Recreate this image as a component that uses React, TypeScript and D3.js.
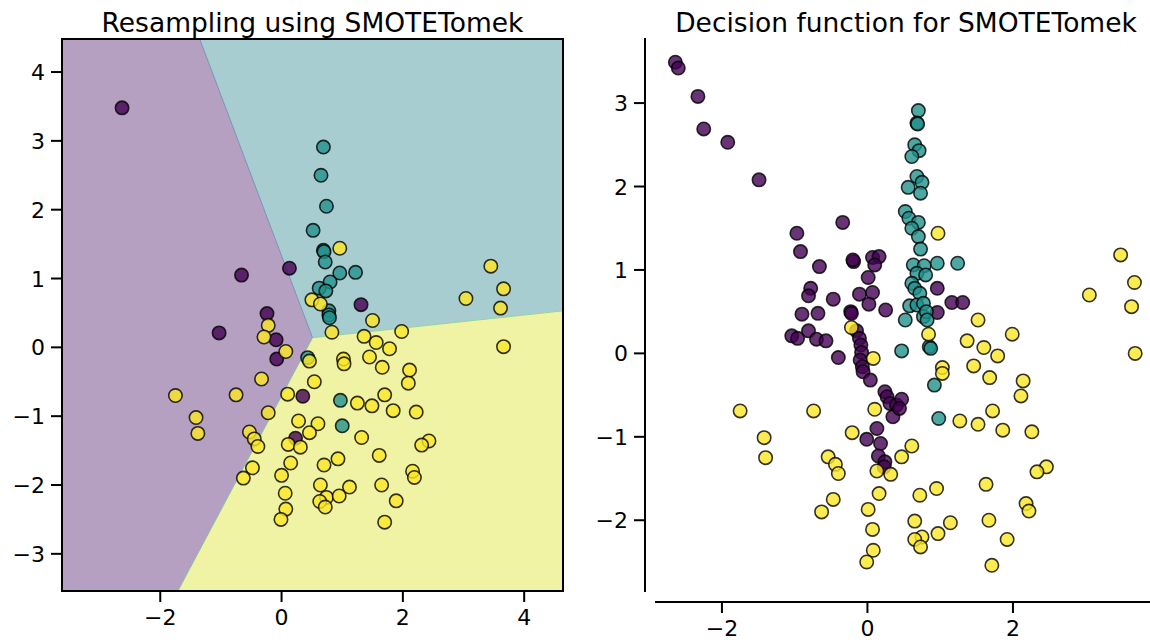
import React from "react";
import * as d3 from "d3";

type P = [number, number];

// ---------- Left panel data ----------
const leftPurple: P[] = [
  [-2.63, 3.48], [-0.66, 1.05], [0.13, 1.15], [-0.24, 0.49], [1.31, 0.62], [-1.03, 0.21],
  [-0.09, 0.11], [-0.08, -0.17], [0.35, -0.71], [0.23, -1.32],
];
const leftTeal: P[] = [
  [0.69, 2.91], [0.65, 2.5], [0.74, 2.05], [0.52, 1.7], [0.69, 1.41], [0.7, 1.39], [0.72, 1.24],
  [0.96, 1.08], [1.22, 1.09], [0.8, 0.95], [0.62, 0.86], [0.73, 0.82], [0.78, 0.53], [0.78, 0.47],
  [0.79, 0.43], [0.43, -0.15], [0.97, -0.77], [1.0, -1.14],
];
const leftYellow: P[] = [
  [0.96, 1.44], [0.5, 0.69], [0.64, 0.63], [3.04, 0.71], [3.45, 1.18], [3.66, 0.85], [3.61, 0.57],
  [1.5, 0.39], [3.66, 0.01], [-0.22, 0.32], [-0.29, 0.15], [0.07, -0.06], [0.46, -0.2], [0.83, 0.22],
  [1.36, 0.16], [1.98, 0.23], [1.56, 0.07], [1.78, -0.02], [1.02, -0.17], [1.03, -0.24], [1.45, -0.14],
  [1.66, -0.29], [2.11, -0.33], [2.09, -0.52], [-0.33, -0.46], [-1.75, -0.7], [-0.75, -0.69],
  [0.1, -0.68], [0.54, -0.5], [1.7, -0.69], [1.25, -0.81], [1.49, -0.85], [1.84, -0.92], [2.22, -0.94],
  [-0.22, -0.95], [-1.41, -1.02], [-1.38, -1.25], [-0.53, -1.23], [-0.45, -1.33], [-0.39, -1.44],
  [0.28, -1.07], [0.6, -1.11], [0.46, -1.24], [0.11, -1.41], [0.31, -1.45], [1.32, -1.31], [2.43, -1.36],
  [2.31, -1.42], [1.61, -1.57], [0.93, -1.62], [0.7, -1.71], [0.15, -1.68], [-0.48, -1.75],
  [-0.63, -1.9], [0.0, -1.86], [0.64, -2.0], [1.12, -2.03], [1.65, -2.0], [2.16, -1.8], [2.19, -1.89],
  [0.06, -2.12], [0.74, -2.18], [0.95, -2.16], [0.63, -2.24], [0.72, -2.32], [0.07, -2.35],
  [-0.01, -2.5], [1.89, -2.23], [1.7, -2.54],
];

// decision-region boundary vertices (data coords)
const leftTopCross: P = [-1.35, 4.48];
const leftTriple: P = [0.51, 0.14];
const leftBottomCross: P = [-1.71, -3.54];
const leftRightCross: P = [4.64, 0.53];

// ---------- Right panel data ----------
const rightPurple: P[] = [
  [-2.64, 3.49], [-2.6, 3.42], [-2.33, 3.08], [-2.25, 2.69], [-1.92, 2.53], [-1.49, 2.08], [-0.97, 1.44],
  [-0.92, 1.22], [-0.34, 1.57], [-0.66, 1.04], [-0.19, 1.1], [-0.2, 1.12], [0.07, 1.15], [0.16, 1.16],
  [0.1, 1.06], [0.01, 0.91], [-0.78, 0.78], [-0.81, 0.69], [-0.47, 0.65], [-0.11, 0.71], [0.07, 0.73],
  [0.02, 0.59], [0.25, 0.52], [-0.9, 0.47], [-0.68, 0.48], [-0.23, 0.5], [-0.22, 0.48], [0.96, 0.78],
  [1.16, 0.61], [1.31, 0.61], [0.96, 0.49], [-1.04, 0.21], [-0.96, 0.18], [-0.81, 0.27], [-0.7, 0.17],
  [-0.57, 0.15], [-0.4, -0.05], [-0.15, 0.27], [-0.11, 0.18], [-0.09, 0.1], [-0.08, 0.01], [-0.1, -0.08],
  [-0.07, -0.16], [-0.06, -0.22], [0.04, -0.32], [0.24, -0.46], [0.27, -0.52], [0.31, -0.6], [0.4, -0.62],
  [0.35, -0.76], [0.47, -0.55], [0.44, -0.66], [0.13, -0.9], [-0.01, -1.03], [0.18, -1.08], [0.15, -1.23],
  [0.24, -1.3], [0.23, -1.36],
];
const rightTeal: P[] = [
  [0.7, 2.91], [0.68, 2.76], [0.69, 2.75], [0.65, 2.5], [0.71, 2.43], [0.61, 2.36], [0.68, 2.12],
  [0.75, 2.05], [0.56, 1.99], [0.73, 1.92], [0.52, 1.7], [0.57, 1.62], [0.7, 1.57], [0.61, 1.5], [0.7, 1.4],
  [0.73, 1.25], [0.63, 1.06], [0.78, 1.05], [0.96, 1.08], [1.24, 1.08], [0.68, 0.96], [0.8, 0.94],
  [0.61, 0.84], [0.65, 0.78], [0.72, 0.72], [0.58, 0.57], [0.68, 0.58], [0.77, 0.6], [0.77, 0.44],
  [0.81, 0.5], [0.52, 0.4], [0.82, 0.4], [0.85, 0.08], [0.87, 0.06], [0.47, 0.03], [0.92, -0.38],
  [0.98, -0.78],
];
const rightYellow: P[] = [
  [0.97, 1.44], [3.48, 1.18], [3.67, 0.85], [3.05, 0.7], [3.63, 0.56], [1.52, 0.4], [1.99, 0.23],
  [1.37, 0.15], [1.6, 0.07], [1.79, -0.03], [3.68, 0.0], [0.84, 0.23], [-0.22, 0.31], [0.08, -0.06],
  [1.03, -0.17], [1.03, -0.24], [1.46, -0.15], [1.68, -0.29], [2.14, -0.33], [2.11, -0.51], [1.72, -0.69],
  [1.27, -0.81], [1.52, -0.85], [1.86, -0.92], [2.26, -0.94], [-1.75, -0.69], [-0.74, -0.69], [0.1, -0.67],
  [-0.21, -0.95], [-1.42, -1.01], [-1.4, -1.25], [-0.54, -1.24], [-0.44, -1.33], [-0.4, -1.44],
  [0.61, -1.11], [0.47, -1.24], [0.13, -1.41], [0.32, -1.45], [2.46, -1.36], [2.33, -1.42], [1.63, -1.57],
  [0.95, -1.62], [0.72, -1.7], [0.16, -1.68], [-0.47, -1.75], [-0.63, -1.9], [0.01, -1.87], [2.18, -1.8],
  [2.22, -1.89], [0.65, -2.01], [1.14, -2.03], [1.67, -2.0], [0.07, -2.11], [0.97, -2.16], [0.75, -2.2],
  [0.65, -2.23], [0.73, -2.32], [1.92, -2.23], [0.08, -2.36], [-0.01, -2.5], [1.71, -2.54],
];

const leftXTicks = [-2, 0, 2, 4];
const leftYTicks = [-3, -2, -1, 0, 1, 2, 3, 4];
const rightXTicks = [-2, 0, 2];
const rightYTicks = [-2, -1, 0, 1, 2, 3];

const leftTitle = "Resampling using SMOTETomek";
const rightTitle = "Decision function for SMOTETomek";

const PURPLE = "#440154";
const TEAL = "#21918c";
const YELLOW = "#fde725";
const FONT = "DejaVu Sans, sans-serif";
const fmt = (v: number) => (v < 0 ? "\u2212" + Math.abs(v) : String(v));

const Dots = ({ pts, color, sx, sy }: { pts: P[]; color: string; sx: any; sy: any }) => (
  <g>
    {pts.map((p, i) => (
      <circle
        key={i}
        cx={sx(p[0])}
        cy={sy(p[1])}
        r={6.7}
        fill={color}
        fillOpacity={0.8}
        stroke="#000"
        strokeOpacity={0.8}
        strokeWidth={1.6}
      />
    ))}
  </g>
);

export default function App() {
  // left axes
  const lx = d3.scaleLinear().domain([-3.62, 4.64]).range([62, 563]);
  const ly = d3.scaleLinear().domain([-3.54, 4.48]).range([591, 39]);
  const [lx0, lx1] = lx.domain();
  const [ly0, ly1] = ly.domain();
  const poly = (pts: P[]) => pts.map((p) => `${lx(p[0])},${ly(p[1])}`).join(" ");
  const purpleRegion: P[] = [[lx0, ly1], leftTopCross, leftTriple, leftBottomCross, [lx0, ly0]];
  const tealRegion: P[] = [leftTopCross, [lx1, ly1], leftRightCross, leftTriple];
  const yellowRegion: P[] = [leftTriple, leftRightCross, [lx1, ly0], leftBottomCross];

  // right axes
  const rx = d3.scaleLinear().domain([-2.92, 3.98]).range([655, 1157]);
  const ry = d3.scaleLinear().domain([-2.86, 3.78]).range([592, 38]);
  const spineX = 645;
  const spineY = 602;

  return (
    <svg
      width={1150}
      height={640}
      style={{ position: "absolute", left: 0, top: 0, background: "#fff" }}
      fontFamily={FONT}
    >
      <rect x={0} y={0} width={1150} height={640} fill="#fff" />
      {/* ---------- left panel ---------- */}
      <polygon points={poly(purpleRegion)} fill="#b5a0c2" />
      <polygon points={poly(tealRegion)} fill="#a8cdd0" />
      <polygon points={poly(yellowRegion)} fill="#eff3a3" />
      <line x1={lx(leftTopCross[0])} y1={ly(leftTopCross[1])} x2={lx(leftTriple[0])} y2={ly(leftTriple[1])} stroke="#7592b5" strokeWidth={1} />
      <line x1={lx(leftTriple[0])} y1={ly(leftTriple[1])} x2={lx(leftRightCross[0])} y2={ly(leftRightCross[1])} stroke="#8fd39a" strokeWidth={1} />
      <line x1={lx(leftTriple[0])} y1={ly(leftTriple[1])} x2={lx(leftBottomCross[0])} y2={ly(leftBottomCross[1])} stroke="#7fc0a0" strokeWidth={1} />
      <Dots pts={leftPurple} color={PURPLE} sx={lx} sy={ly} />
      <Dots pts={leftTeal} color={TEAL} sx={lx} sy={ly} />
      <Dots pts={leftYellow} color={YELLOW} sx={lx} sy={ly} />
      <rect x={62} y={39} width={501} height={552} fill="none" stroke="#000" strokeWidth={2} />
      {leftXTicks.map((t) => (
        <g key={"lx" + t}>
          <line x1={lx(t)} x2={lx(t)} y1={591} y2={602} stroke="#000" strokeWidth={2} />
          <text x={lx(t)} y={625} textAnchor="middle" fontSize={22} fill="#000">{fmt(t)}</text>
        </g>
      ))}
      {leftYTicks.map((t) => (
        <g key={"ly" + t}>
          <line x1={51} x2={62} y1={ly(t)} y2={ly(t)} stroke="#000" strokeWidth={2} />
          <text x={45} y={ly(t) + 8} textAnchor="end" fontSize={22} fill="#000">{fmt(t)}</text>
        </g>
      ))}
      <text x={312.5} y={32} textAnchor="middle" fontSize={26.5} fill="#000">{leftTitle}</text>

      {/* ---------- right panel ---------- */}
      <Dots pts={rightPurple} color={PURPLE} sx={rx} sy={ry} />
      <Dots pts={rightTeal} color={TEAL} sx={rx} sy={ry} />
      <Dots pts={rightYellow} color={YELLOW} sx={rx} sy={ry} />
      <line x1={spineX} x2={spineX} y1={38} y2={592} stroke="#000" strokeWidth={2} />
      <line x1={655} x2={1157} y1={spineY} y2={spineY} stroke="#000" strokeWidth={2} />
      {rightXTicks.map((t) => (
        <g key={"rx" + t}>
          <line x1={rx(t)} x2={rx(t)} y1={spineY} y2={spineY + 11} stroke="#000" strokeWidth={2} />
          <text x={rx(t)} y={636} textAnchor="middle" fontSize={22} fill="#000">{fmt(t)}</text>
        </g>
      ))}
      {rightYTicks.map((t) => (
        <g key={"ry" + t}>
          <line x1={spineX - 11} x2={spineX} y1={ry(t)} y2={ry(t)} stroke="#000" strokeWidth={2} />
          <text x={628} y={ry(t) + 8} textAnchor="end" fontSize={22} fill="#000">{fmt(t)}</text>
        </g>
      ))}
      <text x={906} y={32} textAnchor="middle" fontSize={26.5} fill="#000">{rightTitle}</text>
    </svg>
  );
}
